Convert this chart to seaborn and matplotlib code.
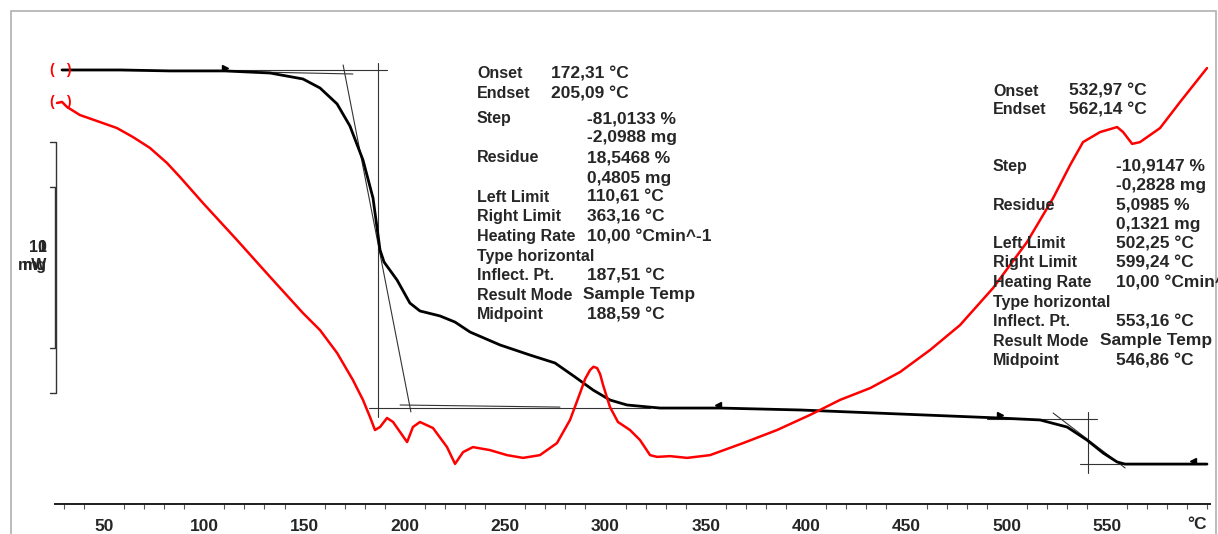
import numpy as np
import matplotlib.pyplot as plt
import seaborn as sns
from matplotlib.patches import Rectangle

# TGA curve (black): temperature in degC, mass in mg
tga_T = [29.1, 58.0, 82.9, 110.3, 132.8, 149.2, 157.7, 166.2, 172.6, 179.1,
         184.1, 186.6, 187.6, 189.6, 196.1, 202.5, 207.5, 217.5, 225.0, 232.5,
         247.4, 262.4, 274.8, 284.8, 293.8, 302.2, 310.7, 327.2, 357.1, 397.0,
         446.8, 496.6, 516.6, 530.1, 540.0, 548.0, 555.0, 558.9, 599.8]
tga_mg = [2.591, 2.591, 2.585, 2.585, 2.572, 2.535, 2.479, 2.380, 2.243, 2.032,
          1.796, 1.566, 1.473, 1.398, 1.286, 1.143, 1.094, 1.063, 1.025, 0.963,
          0.883, 0.820, 0.771, 0.684, 0.603, 0.541, 0.510, 0.491, 0.491, 0.479,
          0.454, 0.429, 0.417, 0.373, 0.292, 0.212, 0.156, 0.143, 0.143]

# DSC curve (red): heat flow in mW
dsc_T = [26.6, 29.1, 31.6, 38.0, 48.0, 56.5, 64.5, 72.9, 81.4, 87.9, 99.4,
         116.3, 132.8, 149.2, 157.7, 166.2, 174.1, 179.1, 182.6, 185.1, 187.6,
         191.1, 194.1, 197.6, 201.1, 204.0, 207.5, 214.0, 221.0, 225.0, 229.0,
         233.9, 242.4, 250.9, 258.9, 267.3, 275.8, 282.3, 287.3, 289.8, 292.3,
         294.0, 295.8, 297.3, 298.8, 302.2, 306.2, 312.2, 317.2, 322.2, 325.7,
         332.2, 340.7, 352.1, 368.6, 385.5, 401.9, 416.9, 431.9, 446.8, 461.8,
         476.7, 493.2, 510.1, 523.1, 531.6, 538.0, 546.5, 555.0, 558.0, 562.5,
         566.4, 576.4, 586.4, 599.8]
dsc_mW = [7.85, 7.89, 7.69, 7.37, 7.09, 6.85, 6.49, 6.06, 5.46, 4.90, 3.86,
          2.39, 0.92, -0.52, -1.20, -2.11, -3.19, -3.98, -4.66, -5.18, -5.06,
          -4.70, -4.86, -5.26, -5.66, -5.06, -4.86, -5.10, -5.86, -6.53, -6.06,
          -5.86, -5.98, -6.18, -6.29, -6.18, -5.70, -4.78, -3.71, -3.15, -2.79,
          -2.66, -2.71, -2.95, -3.39, -4.26, -4.86, -5.18, -5.58, -6.18, -6.25,
          -6.22, -6.29, -6.18, -5.70, -5.18, -4.58, -3.98, -3.51, -2.87, -1.99,
          -1.00, 0.48, 2.31, 4.06, 5.38, 6.29, 6.69, 6.89, 6.69, 6.22,
          6.29, 6.85, 7.89, 9.24]

# limit flags on the TGA curve
left_lim_T = [110.3, 496.6]
left_lim_mg = [2.585, 0.429]
right_lim_T = [356.0, 593.0]
right_lim_mg = [0.491, 0.143]

# evaluation construction lines: (T1, T2, mg1, mg2)
guides = [
    (29.1, 191.1, 2.591, 2.591),
    (127.8, 174.1, 2.578, 2.566),
    (186.6, 186.6, 2.634, 0.435),
    (169.2, 203.0, 2.622, 0.467),
    (182.1, 322.2, 0.491, 0.491),
    (197.6, 277.3, 0.510, 0.497),
    (490.0, 545.0, 0.423, 0.423),
    (540.5, 540.5, 0.466, 0.088),
    (523.1, 559.0, 0.460, 0.119),
    (536.5, 599.8, 0.143, 0.143),
]

step1_labels = ["Onset", "Endset", "Step", "", "Residue", "", "Left Limit",
                "Right Limit", "Heating Rate", "Type horizontal", "Inflect. Pt.",
                "Result Mode", "Midpoint"]
step1_values = ["172,31 °C", "205,09 °C", "-81,0133 %", "-2,0988 mg",
                "18,5468 %", "0,4805 mg", "110,61 °C", "363,16 °C",
                "10,00 °Cmin^-1", "", "187,51 °C", "Sample Temp", "188,59 °C"]
step2_values = ["532,97 °C", "562,14 °C", "-10,9147 %", "-0,2828 mg",
                "5,0985 %", "0,1321 mg", "502,25 °C", "599,24 °C",
                "10,00 °Cmin^-1", "", "553,16 °C", "Sample Temp", "546,86 °C"]
ticks = [50, 100, 150, 200, 250, 300, 350, 400, 450, 500, 550]

sns.set_theme(style="white")
plt.rcParams['font.family'] = ['Liberation Sans', 'DejaVu Sans']

W, H = 1218, 534
fig = plt.figure(figsize=(W / 100, H / 100), dpi=100)
ax = fig.add_axes([55 / W, 30 / H, 1155 / W, 492 / H])
ax2 = ax.twinx()

# outer frame
fig.patches.append(Rectangle((11 / W, -0.01), 1205 / W, 1 - 11 / H + 0.01,
                             transform=fig.transFigure, fill=False,
                             edgecolor='#b0b0b0', lw=1.2))

for g in guides:
    ax.plot(g[:2], g[2:], color='#333333', lw=0.8, zorder=2)

sns.lineplot(x=tga_T, y=tga_mg, ax=ax, color='black', lw=2.0, zorder=3,
             estimator=None)
ax.plot(left_lim_T, [m + 0.02 for m in left_lim_mg], ls='none', marker='>',
        ms=4, color='black')
ax.plot(right_lim_T, [m + 0.02 for m in right_lim_mg], ls='none', marker='<',
        ms=4, color='black')

sns.lineplot(x=dsc_T, y=dsc_mW, ax=ax2, color='#ff0000', lw=1.8, zorder=3,
             estimator=None)

ax.set_xlim(25.6, 601.3)
ax.set_ylim(-0.105, 2.951)
ax2.set_ylim(-8.127, 11.474)

# start markers
for a, yv in ((ax, tga_mg[0]), (ax2, dsc_mW[1])):
    a.text(24.0, yv, "(", color='#ff0000', fontsize=10, fontweight='bold',
           ha='center', va='center', clip_on=False)
    a.text(32.3, yv, ")", color='#ff0000', fontsize=10, fontweight='bold',
           ha='center', va='center', clip_on=False)

# scale bars: 1 mg and 10 mW
yt = ax.get_yaxis_transform()
ax.plot([-0.0045, 0.0, 0.0, -0.0045], [1.864, 1.864, 0.864, 0.864],
        color='#333333', lw=1, transform=yt, clip_on=False)
yt2 = ax2.get_yaxis_transform()
ax2.plot([-0.0045, 0.0009, 0.0009, -0.0045], [6.29, 6.29, -3.71, -3.71],
         color='#333333', lw=1, transform=yt2, clip_on=False)
for s in ("1", "10"):
    fig.text(47 / W, 1 - 252 / H, s, ha='right', va='baseline',
             fontsize=11.5, fontweight='bold')
for s in ("mg", "mW"):
    fig.text(47 / W, 1 - 270 / H, s, ha='right', va='baseline',
             fontsize=11.5, fontweight='bold')

for a in (ax, ax2):
    for side in ('left', 'right', 'top'):
        a.spines[side].set_visible(False)
    a.set_yticks([])
    a.set_ylabel('')
ax.spines['bottom'].set_color('black')
ax.spines['bottom'].set_linewidth(1.3)
ax.set_xticks(ticks)
ax.set_xticks(np.arange(30, 601, 10), minor=True)
ax.tick_params(axis='x', which='major', direction='out', length=5, width=1,
               color='#333333', pad=6, labelsize=12.5)
ax.tick_params(axis='x', which='minor', direction='out', length=3.5,
               width=0.8, color='#555555', bottom=True)
for lab in ax.get_xticklabels():
    lab.set_fontweight('bold')
ax.text(594.9, -0.042, "°C", transform=ax.get_xaxis_transform(),
        ha='center', va='center', fontsize=12.5, fontweight='bold')

# result text blocks
rows1 = [73, 93, 118, 137, 157, 177, 196, 216, 236, 255, 275, 294, 314]
rows2 = [90, 109, 165, 185, 204, 224, 243, 262, 282, 301, 321, 340, 360]
for i, lab in enumerate(step1_labels):
    for x0, rows, vals, vx in ((477, rows1, step1_values, 587),
                               (993, rows2, step2_values, 1116)):
        y = 1 - (rows[i] + 5.5) / H
        fig.text(x0 / W, y, lab, ha='left', va='baseline', fontsize=11.5,
                 fontweight='bold')
        if i < 2:
            vxx = x0 + (74 if x0 < 900 else 76)
        elif lab == "Result Mode":
            vxx = vx - 4 if x0 < 900 else vx - 16
        else:
            vxx = vx
        fig.text(vxx / W, y, vals[i], ha='left', va='baseline', fontsize=12.5,
                 fontweight='bold')

fig.savefig('out.png', dpi=100)
